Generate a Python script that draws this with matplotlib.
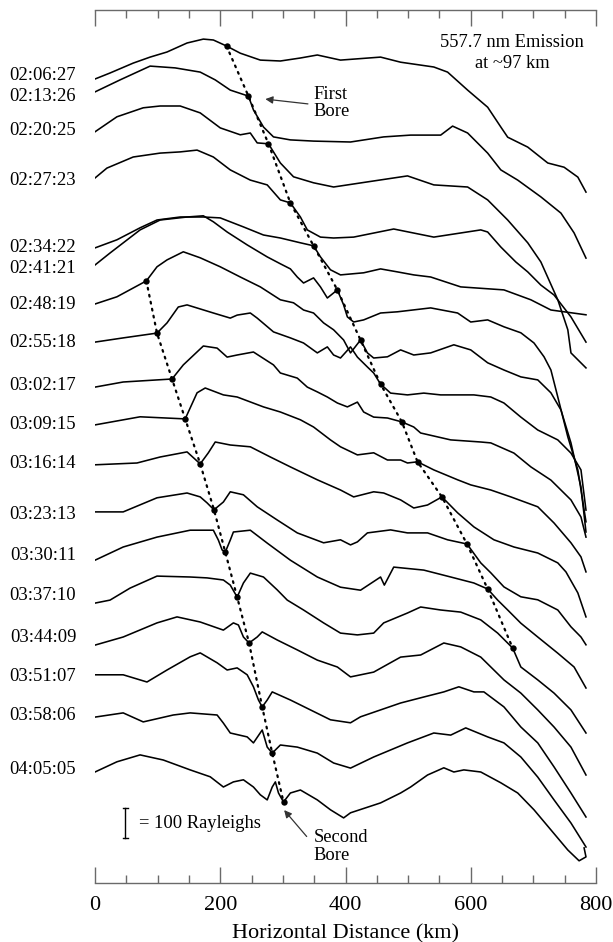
import numpy as np
import matplotlib.pyplot as plt
from matplotlib.ticker import MultipleLocator

plt.rcParams['font.family'] = ['Liberation Serif', 'DejaVu Serif']

# ==========================
# Data: keogram-style cuts, km along the cut vs. brightness (Rayleighs)
# brightness is relative to each trace's own baseline
# ==========================

times = ["02:06:27", "02:13:26", "02:20:25", "02:27:23", "02:34:22", "02:41:21",
         "02:48:19", "02:55:18", "03:02:17", "03:09:15", "03:16:14", "03:23:13",
         "03:30:11", "03:37:10", "03:44:09", "03:51:07", "03:58:06", "04:05:05"]

# vertical stacking of the traces (R)
offsets_R = [2693, 2620, 2507, 2340, 2117, 2047, 1927, 1800, 1660, 1527,
             1397, 1227, 1093, 960, 820, 687, 560, 377]

km_020627 = [0, 24, 61, 88, 115, 147, 173, 189, 210, 232, 264, 296, 328, 355, 392, 456, 488, 541,
             563, 595, 627, 648, 659, 691, 723, 749, 771, 784]
R_020627 = [-13, 7, 40, 60, 77, 107, 120, 117, 97, 73, 50, 47, 57, 67, 50, 60, 43, 27,
            10, -50, -107, -173, -207, -240, -293, -307, -340, -390]

km_021326 = [0, 40, 88, 128, 168, 192, 216, 245, 253, 269, 285, 312, 349, 408, 461, 504, 552, 571,
             595, 627, 648, 675, 712, 744, 765, 784]
R_021326 = [17, 57, 103, 97, 83, 57, 23, 3, -43, -100, -133, -143, -147, -150, -133, -127, -127, -97,
            -120, -187, -243, -277, -333, -387, -453, -537]

km_022025 = [0, 35, 77, 104, 136, 168, 200, 232, 248, 259, 277, 296, 317, 349, 381, 435, 499, 541,
             595, 627, 659, 691, 712, 739, 755, 760, 784]
R_022025 = [-3, 47, 77, 83, 83, 60, 10, -13, -7, -40, -43, -107, -153, -173, -187, -170, -150, -180,
            -187, -230, -297, -373, -437, -563, -663, -740, -790]

km_022723 = [0, 19, 61, 104, 136, 163, 189, 216, 248, 275, 296, 312, 328, 339, 360, 381, 413, 477,
             541, 616, 627, 648, 672, 691, 712, 733, 760, 784]
R_022723 = [10, 43, 80, 93, 97, 103, 80, 37, 3, -13, -63, -73, -120, -163, -187, -190, -187, -160,
            -187, -163, -170, -220, -270, -303, -347, -380, -453, -537]

km_023422 = [0, 35, 72, 99, 136, 173, 200, 237, 269, 296, 328, 349, 360, 376, 392, 429, 456, 483,
             509, 536, 584, 653, 696, 728, 749, 784]
R_023422 = [0, 27, 67, 93, 103, 103, 100, 70, 43, 33, 17, 7, -30, -73, -90, -83, -70, -80,
            -90, -97, -130, -140, -173, -207, -213, -223]

km_024121 = [0, 24, 72, 104, 147, 173, 189, 211, 243, 275, 296, 312, 323, 333, 349, 360, 371, 387,
             397, 403, 413, 429, 456, 483, 536, 579, 600, 627, 653, 680, 701, 717, 728, 739,
             755, 771, 784]
R_024121 = [13, 53, 130, 163, 173, 177, 157, 123, 80, 40, 17, 0, -27, -47, -30, -60, -97, -70,
            -120, -160, -177, -170, -147, -143, -130, -147, -177, -170, -193, -213, -247, -293, -337, -427,
            -560, -670, -843]

km_024819 = [0, 35, 82, 99, 115, 141, 168, 200, 232, 264, 296, 317, 333, 349, 365, 381, 397, 408,
             424, 435, 445, 467, 488, 509, 536, 573, 600, 627, 653, 680, 707, 728, 744, 760,
             776, 784]
R_024819 = [3, 27, 80, 127, 150, 177, 157, 127, 93, 60, 17, 7, -17, -27, -60, -83, -117, -160,
            -117, -160, -177, -173, -150, -167, -160, -133, -150, -193, -217, -240, -250, -293, -350, -460,
            -607, -757]

km_025518 = [0, 45, 99, 115, 133, 147, 189, 216, 227, 248, 259, 285, 312, 333, 355, 371, 381, 392,
             408, 419, 435, 445, 456, 472, 499, 525, 552, 605, 632, 653, 680, 707, 739, 760,
             776, 784]
R_025518 = [3, 17, 33, 67, 120, 127, 100, 83, 93, 100, 83, 37, 17, 0, -33, -13, -40, -50,
            -13, -47, -80, -100, -137, -167, -173, -167, -173, -173, -180, -200, -247, -290, -323, -367,
            -423, -557]

km_030217 = [0, 45, 123, 141, 173, 195, 211, 227, 253, 285, 296, 323, 339, 355, 371, 387, 403, 419,
             429, 445, 467, 490, 509, 520, 568, 616, 632, 669, 696, 728, 760, 776, 784]
R_030217 = [-7, 10, 20, 67, 130, 123, 93, 100, 110, 67, 40, 23, -7, -23, -40, -60, -73, -57,
            -90, -107, -110, -123, -140, -160, -183, -190, -193, -227, -273, -317, -383, -440, -507]

km_030915 = [0, 72, 144, 163, 176, 205, 227, 269, 296, 328, 349, 376, 392, 419, 445, 467, 488, 499,
             515, 541, 579, 600, 632, 664, 707, 733, 760, 776, 784]
R_030915 = [0, 27, 20, 107, 123, 100, 93, 60, 43, 17, -7, -50, -73, -100, -93, -117, -117, -127,
            -123, -150, -183, -200, -217, -240, -273, -327, -393, -440, -490]

km_031614 = [0, 67, 104, 147, 168, 181, 192, 216, 248, 280, 312, 355, 392, 413, 445, 461, 488, 509,
             531, 554, 579, 605, 637, 669, 707, 739, 752, 771, 784]
R_031614 = [-3, 3, 23, 40, 0, 37, 73, 63, 57, 23, -10, -53, -87, -110, -93, -97, -120, -147,
            -137, -110, -163, -210, -253, -277, -297, -330, -360, -430, -510]

km_032313 = [0, 45, 99, 147, 168, 179, 190, 205, 216, 237, 259, 291, 323, 365, 392, 408, 419, 435,
             472, 499, 531, 563, 594, 616, 632, 653, 680, 707, 739, 760, 776, 784]
R_032313 = [10, 10, 57, 73, 60, 40, 17, 43, 77, 67, 27, -17, -60, -93, -83, -100, -90, -60,
            -50, -60, -60, -83, -97, -160, -193, -240, -273, -283, -317, -373, -407, -433]

km_033011 = [0, 45, 99, 152, 189, 197, 203, 208, 216, 221, 248, 275, 312, 355, 392, 424, 456, 462,
             477, 525, 568, 605, 627, 643, 659, 680, 707, 739, 765, 784]
R_033011 = [-17, 27, 60, 83, 83, 50, 17, 10, 50, 77, 83, 40, -17, -73, -107, -117, -73, -100,
            -40, -50, -73, -93, -113, -150, -183, -227, -273, -327, -373, -443]

km_033710 = [0, 24, 56, 99, 152, 179, 205, 216, 227, 237, 248, 269, 291, 307, 333, 365, 392, 419,
             445, 461, 499, 520, 552, 584, 616, 643, 667, 680, 707, 733, 760, 784]
R_033710 = [-27, -17, 23, 63, 60, 57, 50, 33, -7, 40, 73, 60, 17, -17, -50, -93, -127, -133,
            -127, -93, -60, -40, -50, -57, -83, -127, -177, -240, -283, -327, -383, -460]

km_034409 = [0, 45, 99, 131, 168, 205, 221, 229, 237, 246, 259, 267, 291, 323, 355, 387, 408, 445,
             488, 520, 557, 584, 616, 653, 680, 707, 733, 760, 784]
R_034409 = [-27, 0, 47, 67, 50, 23, 47, 40, 0, -20, 0, 17, -10, -43, -77, -100, -133, -117,
            -67, -60, -20, -33, -67, -143, -187, -243, -300, -367, -460]

km_035107 = [0, 45, 83, 115, 152, 168, 195, 211, 227, 243, 253, 261, 267, 275, 283, 312, 344, 376,
             408, 424, 488, 525, 557, 581, 605, 621, 653, 680, 707, 733, 760, 784]
R_035107 = [7, 7, -17, 23, 67, 80, 47, 23, 30, 7, -33, -77, -100, -77, -50, -77, -110, -143,
            -153, -133, -87, -67, -50, -33, -50, -50, -100, -167, -220, -300, -387, -467]

km_035806 = [0, 45, 77, 125, 152, 195, 205, 216, 243, 253, 267, 275, 283, 296, 323, 355, 381, 408,
             445, 499, 541, 568, 592, 627, 653, 680, 707, 733, 760, 784]
R_035806 = [-7, 7, -23, 0, 7, 0, -27, -60, -73, -93, -50, -107, -127, -100, -107, -127, -160, -177,
            -140, -93, -60, -67, -43, -73, -93, -140, -207, -283, -360, -440]

km_040505 = [0, 35, 72, 109, 152, 184, 205, 221, 237, 253, 264, 275, 283, 288, 293, 301, 312, 328,
             355, 376, 397, 408, 456, 488, 504, 531, 557, 573, 589, 616, 648, 675, 701, 728,
             755, 773, 784, 781]
R_040505 = [-7, 27, 50, 33, 0, -23, -57, -40, -33, -57, -83, -100, -57, -40, -77, -107, -77, -67,
            -100, -133, -160, -143, -110, -77, -57, -17, 7, -7, 0, -7, -43, -77, -133, -200,
            -267, -303, -290, -260]

# bore fronts: position (km) on each trace
first_bore_km = [210, 245, 277, 312, 349, 387, 424, 456, 490, 515, 554, 594, 627, 667]   # traces 0..13
second_bore_km = [82, 99, 123, 144, 168, 190, 208, 227, 246, 267, 283, 301]               # traces 6..17

profiles = [
    (km_020627, R_020627), (km_021326, R_021326), (km_022025, R_022025),
    (km_022723, R_022723), (km_023422, R_023422), (km_024121, R_024121),
    (km_024819, R_024819), (km_025518, R_025518), (km_030217, R_030217),
    (km_030915, R_030915), (km_031614, R_031614), (km_032313, R_032313),
    (km_033011, R_033011), (km_033710, R_033710), (km_034409, R_034409),
    (km_035107, R_035107), (km_035806, R_035806), (km_040505, R_040505),
]

# ==========================
# Plot
# ==========================

W, H = 613, 942
fig = plt.figure(figsize=(W / 100, H / 100), dpi=100)
ax = fig.add_axes([95 / W, 1 - 883 / H, 501 / W, 873 / H])

AXIS_GRAY = '#6a6a6a'


def bore_point(i, bore_km):
    x = np.array(profiles[i][0])
    r = np.array(profiles[i][1])
    k = np.argmin(np.abs(x - bore_km))
    return x[k], r[k] + offsets_R[i]


# traces + time labels
for i, (x, r) in enumerate(profiles):
    y = np.array(r) + offsets_R[i]
    ax.plot(x, y, color='black', lw=1.15, solid_joinstyle='round')
    ax.text(-30, offsets_R[i], times[i], ha='right', va='center',
            fontsize=13.4, clip_on=False)

# first bore
pts1 = [bore_point(i, b) for i, b in enumerate(first_bore_km)]
bx, by = zip(*pts1)
ax.plot(bx, by, color='black', lw=1.6, linestyle=(0, (0.8, 2.4)), dash_capstyle='round')
ax.plot(bx, by, 'o', color='black', ms=4.6, mew=0)

# second bore
pts2 = [bore_point(i + 6, b) for i, b in enumerate(second_bore_km)]
bx, by = zip(*pts2)
ax.plot(bx, by, color='black', lw=1.6, linestyle=(0, (0.8, 2.4)), dash_capstyle='round')
ax.plot(bx, by, 'o', color='black', ms=4.6, mew=0)

# annotations
ax.text(666, 2800, "557.7 nm Emission", ha='center', va='center', fontsize=13.3)
ax.text(666, 2733, "at ~97 km", ha='center', va='center', fontsize=13.3)

ax.text(349, 2627, "First", ha='left', va='center', fontsize=13.3)
ax.text(349, 2573, "Bore", ha='left', va='center', fontsize=13.3)
ax.annotate("", xy=(272, 2613), xytext=(340, 2597),
            arrowprops=dict(arrowstyle='-|>', color='#333333', lw=0.9,
                            mutation_scale=11, shrinkA=0, shrinkB=0))

ax.text(349, 150, "Second", ha='left', va='center', fontsize=13.3)
ax.text(349, 90, "Bore", ha='left', va='center', fontsize=13.3)
ax.annotate("", xy=(302, 243), xytext=(338, 155),
            arrowprops=dict(arrowstyle='-|>', color='#333333', lw=0.9,
                            mutation_scale=11, shrinkA=0, shrinkB=0))

# scale bar: 100 Rayleighs
ax.plot([48, 48], [150, 250], color='black', lw=1.0)
ax.plot([44, 52], [150, 150], color='black', lw=1.0)
ax.plot([44, 52], [250, 250], color='black', lw=1.0)
ax.text(70, 200, "= 100 Rayleighs", ha='left', va='center', fontsize=13.3)

# axes styling
ax.set_xlim(0, 800)
ax.set_ylim(0, 2910)
ax.spines['left'].set_visible(False)
ax.spines['right'].set_visible(False)
for s in ('top', 'bottom'):
    ax.spines[s].set_color(AXIS_GRAY)
    ax.spines[s].set_linewidth(1.0)

ax.xaxis.set_major_locator(MultipleLocator(200))
ax.xaxis.set_minor_locator(MultipleLocator(50))
ax.set_yticks([])
ax.tick_params(axis='x', which='both', direction='in', top=True, bottom=True,
               labeltop=False, color=AXIS_GRAY, width=1.0)
ax.tick_params(axis='x', which='major', length=11.5, labelsize=16, pad=9)
ax.tick_params(axis='x', which='minor', length=5.8)
ax.set_xlabel("Horizontal Distance (km)", fontsize=16, labelpad=7)

fig.savefig("out.png", dpi=100)
